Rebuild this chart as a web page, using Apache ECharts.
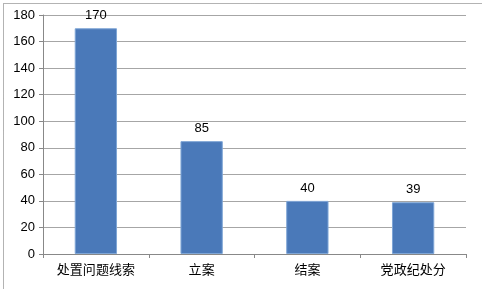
<!DOCTYPE html>
<html><head><meta charset="utf-8">
<script src="https://cdn.jsdelivr.net/npm/echarts@6/dist/echarts.min.js"></script>
<style>html,body{margin:0;padding:0;background:#fff}#c{width:482px;height:289px}</style>
</head><body><div id="c"></div>
<script>
const categories = ['处置问题线索', '立案', '结案', '党政纪处分'];
const values = [170, 85, 40, 39];
const yTicks = [0, 20, 40, 60, 80, 100, 120, 140, 160, 180];

const chart = echarts.init(document.getElementById('c'), null, {renderer: 'canvas'});
chart.setOption({
  animation: false,
  graphic: [{
    type: 'rect', left: 1, top: 1,
    shape: {width: 479, height: 286},
    style: {fill: 'none', stroke: '#666', lineWidth: 1, lineDash: [1, 1]}
  }],
  grid: {left: 43, right: 16, top: 15, bottom: 35},
  xAxis: {
    type: 'category', data: categories,
    axisLine: {show: true, lineStyle: {color: '#888'}},
    axisTick: {show: true, alignWithLabel: false, length: 4, lineStyle: {color: '#888'}},
    axisLabel: {color: '#000', fontSize: 13, margin: 9, fontFamily: 'Noto Sans CJK SC'}
  },
  yAxis: {
    type: 'value', min: yTicks[0], max: yTicks[yTicks.length - 1], interval: 20,
    axisLine: {show: true, lineStyle: {color: '#888'}},
    axisTick: {show: true, length: 4, lineStyle: {color: '#888'}},
    axisLabel: {color: '#000', fontSize: 13, margin: 8, fontFamily: 'Liberation Sans'},
    splitLine: {show: true, lineStyle: {color: '#a6a6a6', width: 1}}
  },
  series: [{
    type: 'bar', data: values, barWidth: '40%',
    itemStyle: {color: '#4a79b9', borderColor: '#7fa6d6', borderWidth: 1},
    label: {show: true, position: 'top', color: '#000', fontSize: 13, distance: 6, fontFamily: 'Liberation Sans'}
  }]
});
</script></body></html>
